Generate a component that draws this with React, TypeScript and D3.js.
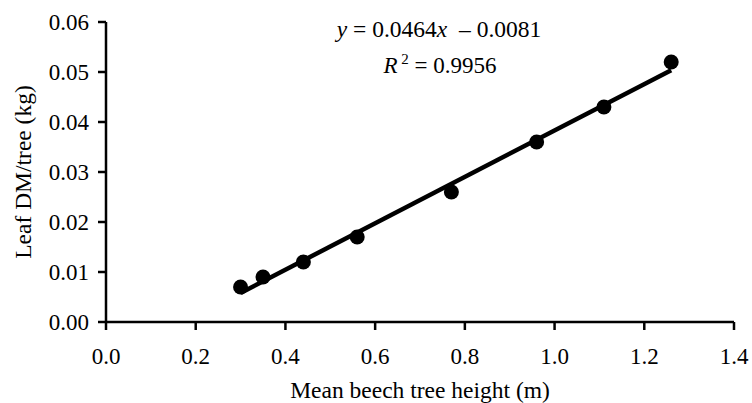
import React from "react";
import * as d3 from "d3";

const heights = [0.3, 0.35, 0.44, 0.56, 0.77, 0.96, 1.11, 1.26];
const leafDM = [0.007, 0.009, 0.012, 0.017, 0.026, 0.036, 0.043, 0.052];
const xTicks = [0, 0.2, 0.4, 0.6, 0.8, 1.0, 1.2, 1.4];
const yTicks = [0, 0.01, 0.02, 0.03, 0.04, 0.05, 0.06];
const slope = 0.0464;
const intercept = -0.0081;
const rSquared = "0.9956";
const xTitle = "Mean beech tree height (m)";
const yTitle = "Leaf DM/tree (kg)";

const W = 752;
const H = 403;
const FONT = "'Liberation Serif', 'Times New Roman', serif";

export default function App() {
  const x = d3.scaleLinear().domain([0, 1.4]).range([106, 734]);
  const y = d3.scaleLinear().domain([0, 0.06]).range([322, 22]);
  const x0 = d3.min(heights) as number;
  const x1 = d3.max(heights) as number;
  const fitLine = d3
    .line<number>()
    .x((d) => x(d))
    .y((d) => y(slope * d + intercept));

  return (
    <svg
      width={W}
      height={H}
      style={{ position: "absolute", left: 0, top: 0, background: "#fff" }}
      fontFamily={FONT}
    >
      <rect width={W} height={H} fill="#fff" />
      {/* axes */}
      <line x1={x(0)} x2={x(0)} y1={y(0.06)} y2={y(0)} stroke="#000" strokeWidth={2.5} />
      <line x1={x(0)} x2={x(1.4)} y1={y(0)} y2={y(0)} stroke="#000" strokeWidth={2.5} />
      {yTicks.map((t) => (
        <g key={"y" + t}>
          <line x1={x(0) - 8} x2={x(0)} y1={y(t)} y2={y(t)} stroke="#000" strokeWidth={2.5} />
          <text x={x(0) - 17} y={y(t)} dy="0.35em" textAnchor="end" fontSize={23}>
            {t.toFixed(2)}
          </text>
        </g>
      ))}
      {xTicks.map((t) => (
        <g key={"x" + t}>
          <line x1={x(t)} x2={x(t)} y1={y(0)} y2={y(0) + 8} stroke="#000" strokeWidth={2.5} />
          <text x={x(t)} y={364} textAnchor="middle" fontSize={23}>
            {t.toFixed(1)}
          </text>
        </g>
      ))}
      <text x={(x(0) + x(1.4)) / 2} y={398} textAnchor="middle" fontSize={23.5}>
        {xTitle}
      </text>
      <text
        transform={`translate(31,${(y(0) + y(0.06)) / 2}) rotate(-90)`}
        textAnchor="middle"
        fontSize={23.5}
      >
        {yTitle}
      </text>
      {/* trendline */}
      <path d={fitLine([x0, x1]) || ""} stroke="#000" strokeWidth={4.5} fill="none" />
      {/* points */}
      {heights.map((h, i) => (
        <circle key={i} cx={x(h)} cy={y(leafDM[i])} r={7.5} fill="#000" />
      ))}
      {/* equation */}
      <text x={439} y={37} textAnchor="middle" fontSize={23.5}>
        <tspan fontStyle="italic">y</tspan>
        <tspan> = {slope}</tspan>
        <tspan fontStyle="italic">x</tspan>
        <tspan dx={6}> {intercept < 0 ? "\u2013" : "+"} {Math.abs(intercept)}</tspan>
      </text>
      <text x={440} y={73} textAnchor="middle" fontSize={23}>
        <tspan fontStyle="italic">R</tspan>
        <tspan dy={-9} fontSize={15}> 2</tspan>
        <tspan dy={9}> = {rSquared}</tspan>
      </text>
    </svg>
  );
}
